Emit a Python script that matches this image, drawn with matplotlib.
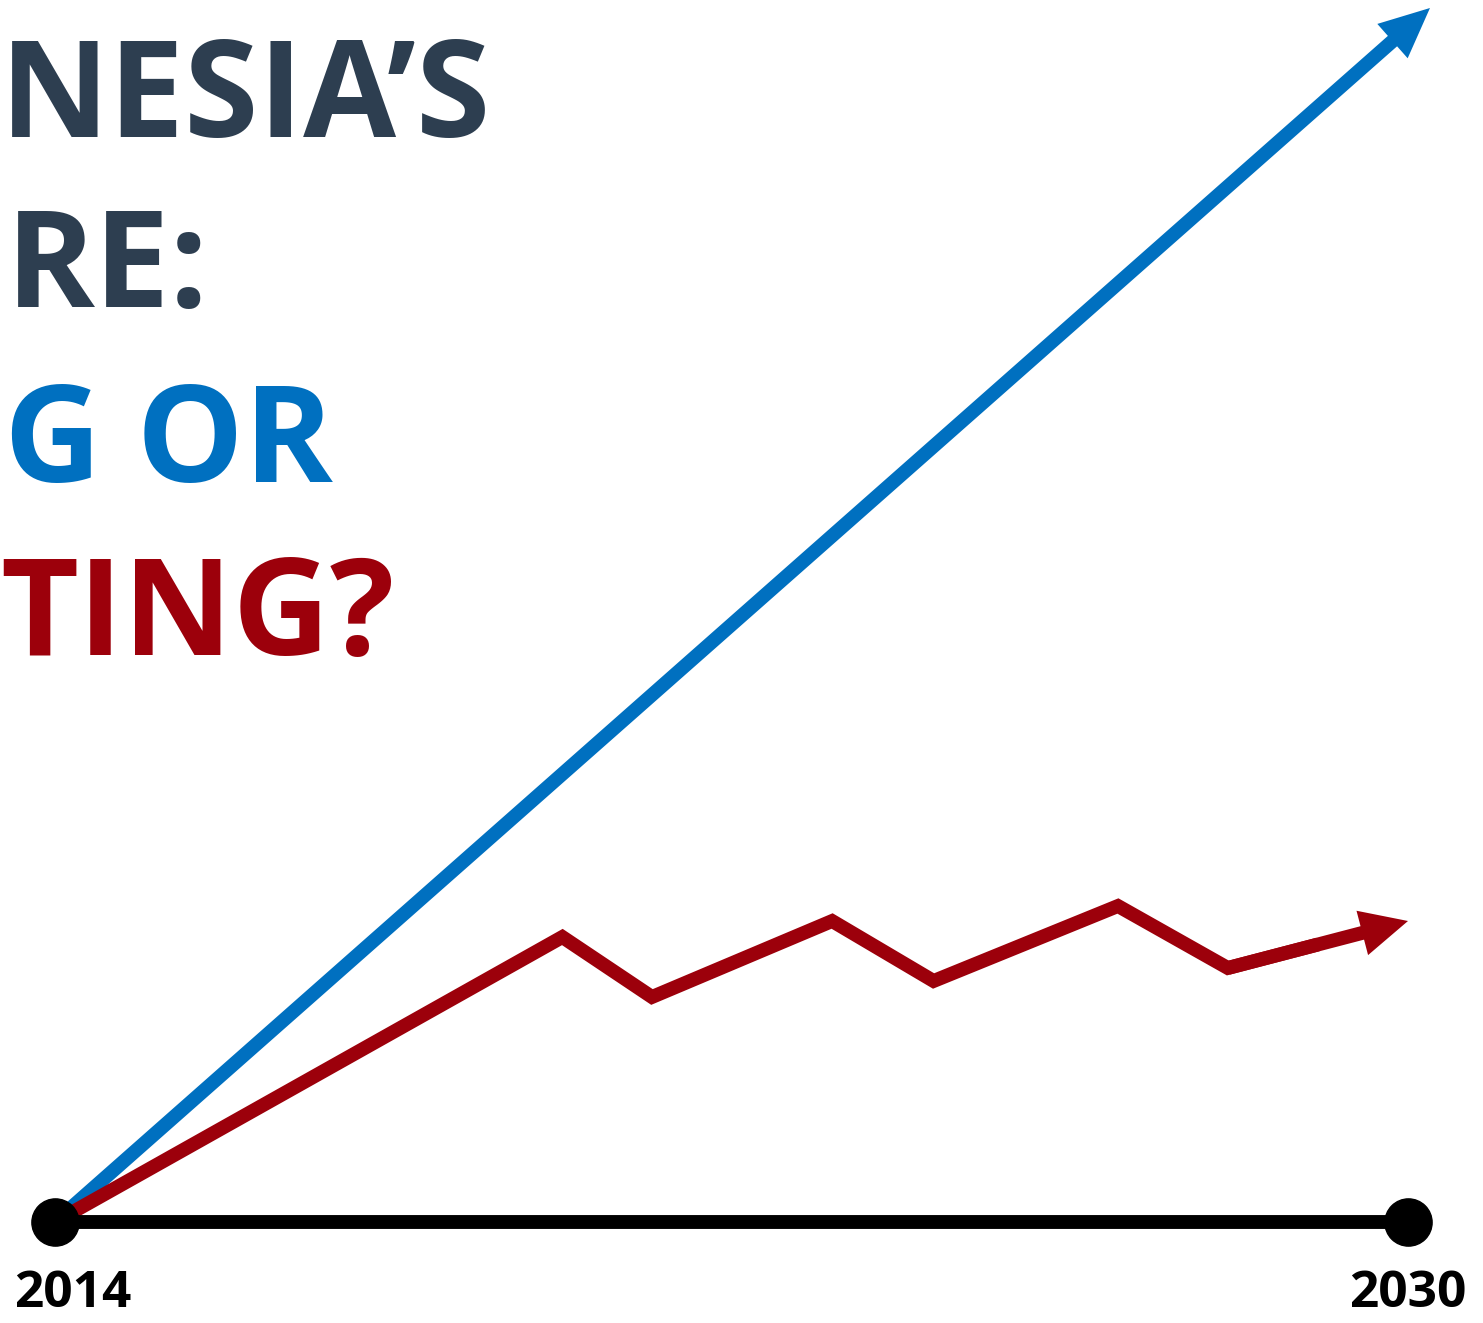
import matplotlib
matplotlib.use("Agg")
import matplotlib.pyplot as plt
from matplotlib.patches import FancyArrowPatch

# ---- data ----
start_year, end_year = 2014, 2030
axis_labels = ["2014", "2030"]

blue_x = [2014.0, 2030.26]
blue_y = [0.0, 121.4]

red_x = [2014.0, 2020.0, 2021.06, 2023.19, 2024.39, 2026.57, 2027.87, 2030.0]
red_y = [0.0, 28.5, 22.5, 30.1, 24.1, 31.6, 25.4, 30.1]

title_lines = ["NESIA\u2019S", "RE:", "G OR", "TING?"]

# ---- style ----
DARK = "#2D3E50"
BLUE = "#0070C0"
RED = "#9C000B"
title_colors = [DARK, DARK, BLUE, RED]
FONT = "Open Sans"

W, H = 1483, 1323
fig = plt.figure(figsize=(W / 100, H / 100), dpi=100)
ax = fig.add_axes([0, 0, 1, 1])
ax.set_xlim(2013.350, 2030.887)
ax.set_ylim(-10.1, 122.2)
ax.axis("off")

# blue arrow
ax.add_patch(FancyArrowPatch((blue_x[0], blue_y[0]), (blue_x[-1], blue_y[-1]),
                             arrowstyle="simple,head_length=3.6,head_width=3.3,tail_width=1.0",
                             mutation_scale=10, color=BLUE, lw=0, shrinkA=0, shrinkB=0, zorder=2))

# red zigzag with arrow at end
mid_x = (red_x[-2] + red_x[-1]) / 2
mid_y = (red_y[-2] + red_y[-1]) / 2
ax.plot(red_x[:-1] + [mid_x], red_y[:-1] + [mid_y], color=RED, lw=10,
        solid_joinstyle="miter", solid_capstyle="butt", zorder=3)
ax.add_patch(FancyArrowPatch((red_x[-2], red_y[-2]), (red_x[-1], red_y[-1]),
                             arrowstyle="simple,head_length=3.4,head_width=3.3,tail_width=1.0",
                             mutation_scale=10, color=RED, lw=0, shrinkA=0, shrinkB=0, zorder=3))

# timeline
ax.plot([start_year, end_year], [0, 0], color="black", lw=10, solid_capstyle="butt", zorder=4)
ax.plot([start_year, end_year], [0, 0], "o", color="black", ms=34, zorder=5)

# year labels
ax.annotate(axis_labels[0], (start_year, 0), xytext=(13, -52), textcoords="offset points",
            ha="center", va="center", fontsize=37, fontweight="bold", family=FONT, color="black")
ax.annotate(axis_labels[1], (end_year, 0), xytext=(0, -52), textcoords="offset points",
            ha="center", va="center", fontsize=37, fontweight="bold", family=FONT, color="black")

# title (cropped words, as in the source)
baselines = [137, 307, 482, 655]
lefts = [0, 6, 4, 0]
for txt, col, by, lx in zip(title_lines, title_colors, baselines, lefts):
    fig.text(lx / W, 1 - by / H, txt, color=col, fontsize=97, fontweight="bold",
             family=FONT, ha="left", va="baseline")

fig.savefig("out.png", dpi=100)
